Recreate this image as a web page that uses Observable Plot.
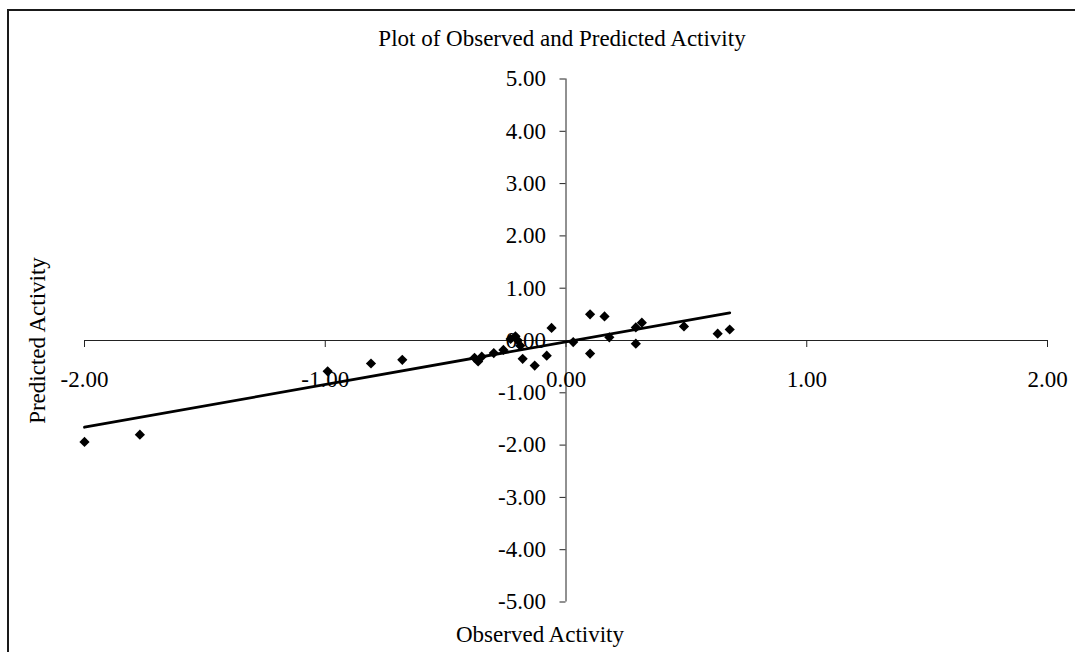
<!DOCTYPE html>
<html>
<head>
<meta charset="utf-8">
<script src="https://cdn.jsdelivr.net/npm/d3@7"></script>
<script src="https://cdn.jsdelivr.net/npm/@observablehq/plot@0.6"></script>
<style>
  html, body { margin: 0; padding: 0; background: #fff; }
  #wrap { position: relative; width: 1075px; height: 652px; overflow: hidden; }
  #border { position: absolute; left: 7px; top: 9px; width: 1100px; height: 700px;
            border-left: 2px solid #1a1a1a; border-top: 2px solid #1a1a1a; box-sizing: border-box; }
  #chart { position: absolute; left: 0; top: 0; }
</style>
</head>
<body>
<div id="wrap"><div id="border"></div><div id="chart"></div></div>
<script>
const observed = [-2.00, -1.77, -0.99, -0.81, -0.68, -0.38, -0.365, -0.35, -0.30, -0.26,
                  -0.23, -0.21, -0.20, -0.19, -0.18, -0.13, -0.08, -0.06, 0.03, 0.10,
                  0.10, 0.16, 0.18, 0.29, 0.29, 0.315, 0.49, 0.63, 0.68];
const predicted = [-1.94, -1.80, -0.59, -0.44, -0.37, -0.33, -0.40, -0.31, -0.24, -0.18,
                   0.03, 0.08, 0.00, -0.10, -0.35, -0.48, -0.29, 0.24, -0.03, -0.25,
                   0.50, 0.46, 0.06, -0.06, 0.25, 0.34, 0.27, 0.13, 0.21];
const xTicks = [-2, -1, 0, 1, 2];
const yTicks = [-5, -4, -3, -2, -1, 0, 1, 2, 3, 4, 5];
const title = "Plot of Observed and Predicted Activity";
const xTitle = "Observed Activity";
const yTitle = "Predicted Activity";

const data = observed.map((x, i) => ({x, y: predicted[i]}));
const fmt = d => d.toFixed(2);
const axisColor = "#222";
const font = "'Liberation Serif', 'Times New Roman', serif";
const fs = 23;

const chart = Plot.plot({
  width: 1075,
  height: 652,
  marginLeft: 84,
  marginRight: 28,
  marginTop: 78.5,
  marginBottom: 50.5,
  style: {fontFamily: font, fontSize: fs + "px", background: "transparent", color: "#000"},
  x: {domain: [-2, 2], axis: null},
  y: {domain: [-5, 5], axis: null},
  marks: [
    // axes crossing at origin
    Plot.ruleY([0], {x1: -2, x2: 2, stroke: axisColor, strokeWidth: 1}),
    Plot.ruleX([0], {y1: -5, y2: 5, stroke: axisColor, strokeWidth: 1}),
    // x ticks (downward)
    Plot.ruleX(xTicks, {x: d => d, y1: 0, y2: 0, insetBottom: -7, stroke: axisColor, strokeWidth: 1}),
    // y ticks (leftward)
    Plot.ruleY(yTicks, {y: d => d, x1: 0, x2: 0, insetLeft: -6, stroke: axisColor, strokeWidth: 1}),
    // tick labels
    Plot.text(xTicks, {x: d => d, y: 0, text: d => fmt(d), dy: 39, fontSize: fs, fill: "#000"}),
    Plot.text(yTicks, {x: 0, y: d => d, text: d => fmt(d), textAnchor: "end", dx: -20, fontSize: fs, fill: "#000"}),
    // trend line
    Plot.linearRegressionY(data, {x: "x", y: "y", ci: 0, stroke: "#000", strokeWidth: 2.8}),
    // points
    Plot.dot(data, {x: "x", y: "y", symbol: "diamond2", r: 4.6, fill: "#000", stroke: "none"}),
    // titles
    Plot.text([title], {frameAnchor: "top", lineAnchor: "middle", dy: -40, dx: -4, fontSize: fs, fill: "#000"}),
    Plot.text([xTitle], {frameAnchor: "bottom", lineAnchor: "middle", dy: 33, dx: -26, fontSize: fs, fill: "#000"}),
    Plot.text([yTitle], {frameAnchor: "left", textAnchor: "middle", lineAnchor: "middle", dx: -47, rotate: -90, fontSize: fs, fill: "#000"})
  ]
});
document.getElementById("chart").appendChild(chart);
</script>
</body>
</html>
